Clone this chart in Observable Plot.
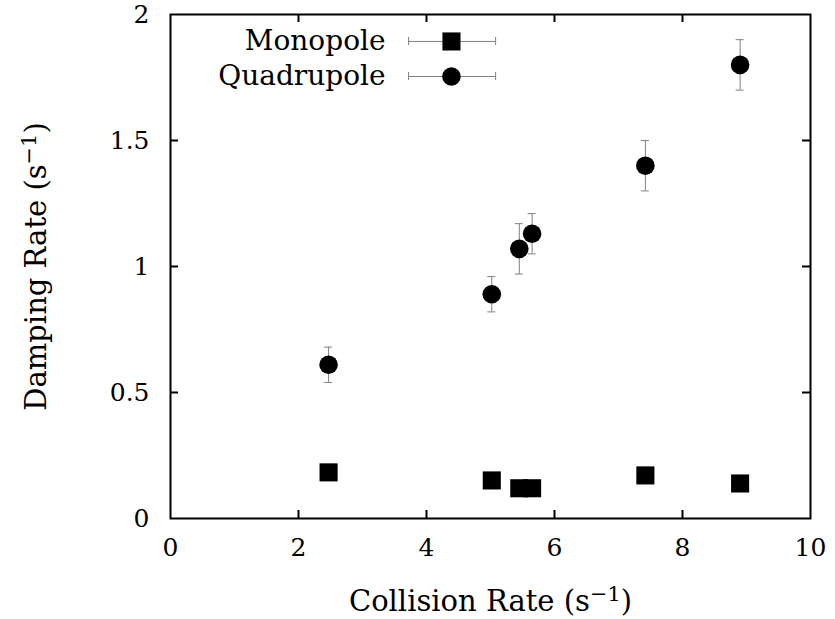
<!DOCTYPE html>
<html>
<head>
<meta charset="utf-8">
<script src="https://cdn.jsdelivr.net/npm/d3@7"></script>
<script src="https://cdn.jsdelivr.net/npm/@observablehq/plot@0.6"></script>
<style>
  html, body { margin: 0; padding: 0; background: #fff; }
  svg { display: block; }
</style>
</head>
<body>
<div id="chart"></div>
<script>
// Collision rate (s^-1)
const collisionRate = [2.47, 5.02, 5.45, 5.65, 7.42, 8.9];
// Quadrupole damping rates and error
const quadRate = [0.61, 0.89, 1.07, 1.13, 1.40, 1.80];
const quadErr  = [0.07, 0.07, 0.10, 0.08, 0.10, 0.10];
// Monopole damping rates and error
const monoRate = [0.183, 0.151, 0.12, 0.12, 0.171, 0.139];
const monoErr  = [0.01, 0.02, 0.01, 0.01, 0.01, 0.01];
const xTicks = [0, 2, 4, 6, 8, 10];
const yTicks = [0, 0.5, 1, 1.5, 2];
const yTickLabels = ["0", "0.5", "1", "1.5", "2"];
const seriesNames = ["Monopole", "Quadrupole"];
const xTitle = "Collision Rate (s⁻¹)";
const yTitle = "Damping Rate (s⁻¹)";

const quad = collisionRate.map((x, i) => ({x, y: quadRate[i], lo: quadRate[i] - quadErr[i], hi: quadRate[i] + quadErr[i]}));
const mono = collisionRate.map((x, i) => ({x, y: monoRate[i], lo: monoRate[i] - monoErr[i], hi: monoRate[i] + monoErr[i]}));

const W = 835, H = 619;
const mL = 170, mR = 25, mT = 14, mB = 101;
const pxX = 10 / (W - mL - mR);   // data units per pixel (x)
const pxY = 2 / (H - mT - mB);    // data units per pixel (y)
const capX = 4 * pxX;
const tickLenX = 8 * pxY;
const tickLenY = 8 * pxX;
const errColor = "#808080";
const font = "DejaVu Serif";

// legend placement (data coords derived from pixel layout)
const legTextX = 3.36, legLineX1 = 3.72, legLineX2 = 5.08, legSymX = 4.39;
const legY = [1.893, 1.754];
const legend = seriesNames.map((name, i) => ({name, y: legY[i]}));

function errorMarks(data) {
  return [
    Plot.ruleX(data, {x: "x", y1: "lo", y2: "hi", stroke: errColor, strokeWidth: 1}),
    Plot.ruleY(data, {y: "lo", x1: d => d.x - capX, x2: d => d.x + capX, stroke: errColor, strokeWidth: 1}),
    Plot.ruleY(data, {y: "hi", x1: d => d.x - capX, x2: d => d.x + capX, stroke: errColor, strokeWidth: 1})
  ];
}

const chart = Plot.plot({
  width: W, height: H,
  marginLeft: mL, marginRight: mR, marginTop: mT, marginBottom: mB,
  style: {fontFamily: font, fontSize: "25px", color: "#000", background: "#fff"},
  x: {domain: [0, 10]},
  y: {domain: [0, 2]},
  marks: [
    Plot.axisX(xTicks, {tickSize: 0, tickPadding: 20, label: null, fontSize: 25, fontFamily: font}),
    Plot.axisY(yTicks, {tickSize: 0, tickPadding: 21, label: null, fontSize: 25, fontFamily: font, tickFormat: (d, i) => yTickLabels[i]}),
    // inward ticks on all four sides
    Plot.ruleX(xTicks.slice(1, -1), {x: d => d, y1: 0, y2: tickLenX, stroke: "#000", strokeWidth: 2}),
    Plot.ruleX(xTicks.slice(1, -1), {x: d => d, y1: 2 - tickLenX, y2: 2, stroke: "#000", strokeWidth: 2}),
    Plot.ruleY(yTicks.slice(1, -1), {y: d => d, x1: 0, x2: tickLenY, stroke: "#000", strokeWidth: 2}),
    Plot.ruleY(yTicks.slice(1, -1), {y: d => d, x1: 10 - tickLenY, x2: 10, stroke: "#000", strokeWidth: 2}),
    // error bars
    ...errorMarks(quad),
    ...errorMarks(mono),
    Plot.dot(quad, {x: "x", y: "y", r: 9.3, fill: "#000", symbol: "circle"}),
    Plot.dot(mono, {x: "x", y: "y", r: 10.2, fill: "#000", symbol: "square"}),
    // legend
    Plot.text(legend, {x: legTextX, y: "y", text: "name", textAnchor: "end", lineAnchor: "middle", fontSize: 28, fontFamily: font, fill: "#000"}),
    Plot.ruleY(legend, {y: "y", x1: legLineX1, x2: legLineX2, stroke: errColor, strokeWidth: 1}),
    Plot.ruleX(legend, {x: legLineX1, y1: d => d.y - 4 * pxY, y2: d => d.y + 4 * pxY, stroke: errColor, strokeWidth: 1}),
    Plot.ruleX(legend, {x: legLineX2, y1: d => d.y - 4 * pxY, y2: d => d.y + 4 * pxY, stroke: errColor, strokeWidth: 1}),
    Plot.dot(legend.slice(0, 1), {x: legSymX, y: "y", r: 10.2, symbol: "square", fill: "#000"}),
    Plot.dot(legend.slice(1, 2), {x: legSymX, y: "y", r: 9.3, symbol: "circle", fill: "#000"}),
    // axis titles
    Plot.text([xTitle], {frameAnchor: "bottom", dy: 83, textAnchor: "middle", lineAnchor: "middle", text: d => d, fontSize: 29, fontFamily: font, fill: "#000"}),
    Plot.text([yTitle], {frameAnchor: "left", dx: -134, textAnchor: "middle", lineAnchor: "middle", rotate: -90, text: d => d, fontSize: 29, fontFamily: font, fill: "#000"}),
    Plot.frame({stroke: "#000", strokeWidth: 2})
  ]
});

// render the "⁻¹" as a true superscript
d3.select(chart).selectAll("text").each(function () {
  const t = d3.select(this);
  const s = this.textContent;
  if (!s.includes("⁻¹")) return;
  const [a, b] = s.split("⁻¹");
  t.text(null);
  t.append("tspan").text(a);
  t.append("tspan").attr("dy", "-0.45em").attr("font-size", "0.72em").text("−1");
  t.append("tspan").attr("dy", "0.32em").text(b);
});
document.getElementById("chart").appendChild(chart);
</script>
</body>
</html>
